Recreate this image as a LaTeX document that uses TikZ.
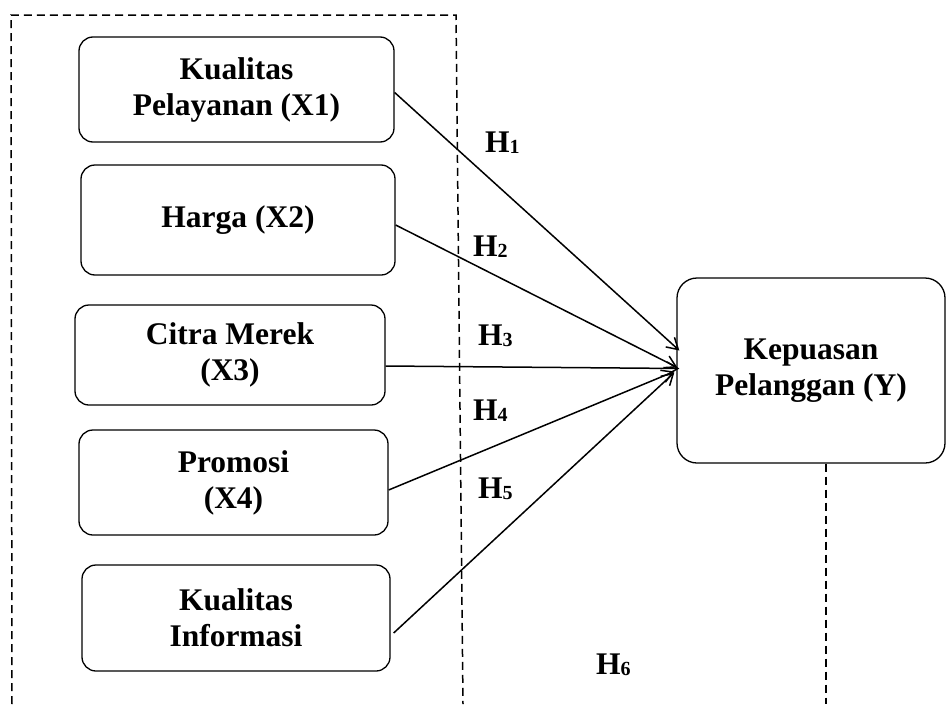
\documentclass[tikz,border=0pt]{standalone}
\usepackage{fontspec}
\setmainfont{Liberation Serif}
\usetikzlibrary{arrows.meta, positioning}
\newcommand{\hsub}[1]{\raisebox{-1pt}{\fontsize{20}{20}\selectfont #1}}

\begin{document}
\begin{tikzpicture}[x=1pt, y=-1pt,
    var/.style={draw, line width=1.3pt, rounded corners=14pt, align=center,
                font=\fontsize{31.5}{36}\selectfont\bfseries, inner sep=0pt},
    arrow/.style={-{Straight Barb[length=11pt,width=13pt]}, line width=1.5pt},
    hyp/.style={font=\fontsize{31.5}{36}\selectfont\bfseries, anchor=base west, inner sep=0pt},
    frame/.style={dash pattern=on 8pt off 5pt, line width=1.5pt}
  ]
    \useasboundingbox (0,0) rectangle (947,704);

    % independent variables
    \node[var, minimum width=315pt, minimum height=105pt] (x1) at (236.5,89.5) {Kualitas\\Pelayanan (X1)};
    \node[var, minimum width=314pt, minimum height=110pt] (x2) at (238,220) {Harga (X2)};
    \node[var, minimum width=310pt, minimum height=100pt] (x3) at (230,355) {Citra Merek\\(X3)};
    \node[var, minimum width=309pt, minimum height=105pt] (x4) at (233.5,482.5) {Promosi\\(X4)};
    \node[var, minimum width=308pt, minimum height=106pt] (x5) at (236,618) {Kualitas\\Informasi};

    % dependent variable
    \node[var, rounded corners=20pt, minimum width=268pt, minimum height=185pt] (y) at (811,370.5) {Kepuasan\\Pelanggan (Y)};

    \draw[arrow] ([yshift=-3pt]x1.east) -- ([xshift=3pt,yshift=20pt]y.west);
    \draw[arrow] ([yshift=-5pt]x2.east) -- ([xshift=1pt,yshift=3pt]y.west);
    \draw[arrow] ([yshift=-11pt]x3.east) -- ([xshift=3pt,yshift=2pt]y.west);
    \draw[arrow] ([yshift=-7.5pt]x4.east) -- ([xshift=-2pt,yshift=-1pt]y.west);
    \draw[arrow] ([xshift=3pt,yshift=-15pt]x5.east) -- ([xshift=-2pt,yshift=-2pt]y.west);

    \node[hyp] (h1) at (485,152) {H\hsub{1}};
    \node[hyp] (h2) at (473,256) {H\hsub{2}};
    \node[hyp] (h3) at (478,345) {H\hsub{3}};
    \node[hyp] (h4) at (473,420) {H\hsub{4}};
    \node[hyp] (h5) at (478,498) {H\hsub{5}};
    \node[hyp] (h6) at (596,674) {H\hsub{6}};

    % dashed frame
    \draw[frame] (12,704) -- (11,15) -- (456,15) -- (463,704);
    \coordinate (yfoot) at (826,704);
    \draw[frame] (y.south -| yfoot) -- (yfoot);
  \end{tikzpicture}
\end{document}
